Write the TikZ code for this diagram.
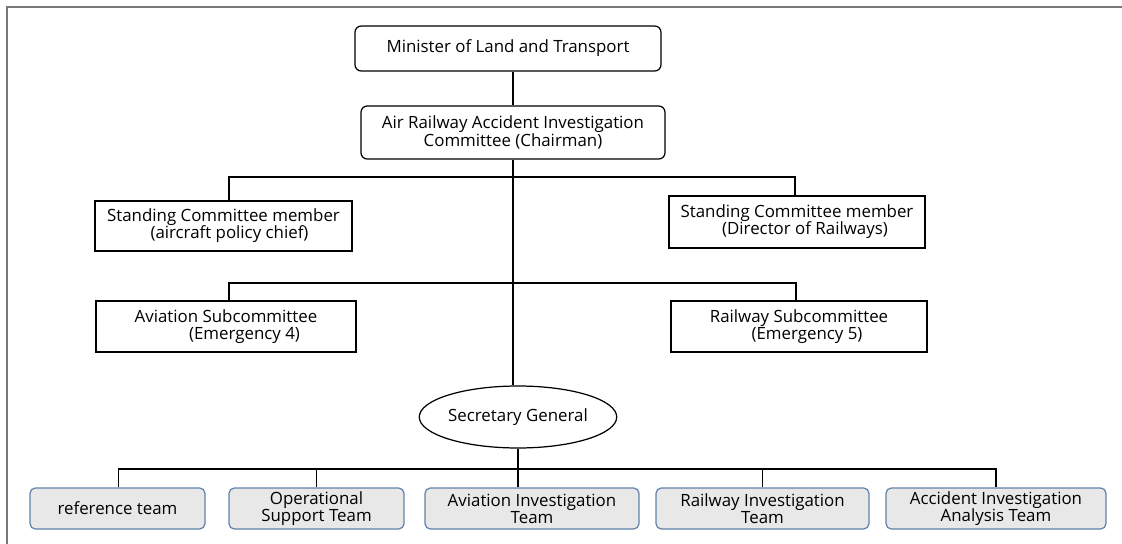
\documentclass[tikz,border=0pt]{standalone}
\usepackage{fontspec}
\setmainfont{Open Sans}
\usepackage{tikz}
\usetikzlibrary{calc,shapes,positioning}
\usetikzlibrary{shapes.geometric}
\definecolor{teamblue}{RGB}{95,130,170}
\definecolor{teamgray}{RGB}{232,232,232}
\definecolor{framegray}{RGB}{120,120,120}

\begin{document}
\begin{tikzpicture}[x=0.02cm, y=-0.02cm]
    \useasboundingbox (0,0) rectangle (1122,544);
    \draw[framegray, line width=1.1pt] (1122,7) -- (7,7) -- (7,544);

    \tikzstyle{hnode} = [line width=0.7pt, draw=black, rectangle, rounded corners = 3.5pt, align=center, inner sep = 1pt]
    \tikzstyle{bnode} = [line width=0.7pt, draw=black, rectangle, align=center, inner sep = 1pt]
    \tikzstyle{enode} = [line width=0.7pt, draw=black, ellipse, inner sep = 0pt, minimum width=3.94cm, minimum height=1.24cm]
    \tikzstyle{tnode} = [line width=0.7pt, draw=teamblue, fill=teamgray, rectangle, rounded corners = 3pt, align=center, inner sep = 1pt, minimum height=0.82cm]
    \tikzstyle{link} = [line width=0.8pt, draw=black]

    \begin{scope}[font=\fontsize{9.6}{9.8}\selectfont]
      \node[hnode, minimum width=6.12cm, minimum height=0.9cm] (mini) at (508,48.5) {Minister of Land and Transport};
      \node[hnode, minimum width=6.08cm, minimum height=1.06cm] (chair) at (513,132.5) {Air Railway Accident Investigation\\Committee (Chairman)};

      \node[bnode, minimum width=5.14cm, minimum height=1.0cm] (scl) at (223.5,226) {Standing Committee member\\\hspace*{0.24cm}(aircraft policy chief)};
      \node[bnode, minimum width=5.12cm, minimum height=1.04cm] (scr) at (797,222) {Standing Committee member\\\hspace*{0.32cm}(Director of Railways)};

      \node[bnode, minimum width=5.2cm, minimum height=1.02cm] (asc) at (226,326.5) {Aviation Subcommittee\\\hspace*{0.74cm}(Emergency 4)};
      \node[bnode, minimum width=5.12cm, minimum height=1.02cm] (rsc) at (799,326.5) {Railway Subcommittee\\\hspace*{0.32cm}(Emergency 5)};

      \node[enode] (sec) at (518,417) {Secretary General};

      \node[tnode, minimum width=3.5cm] (t1) at (117.5,508.5) {reference team};
      \node[tnode, minimum width=3.5cm] (t2) at (316.5,508.5) {Operational\\Support Team};
      \node[tnode, minimum width=4.28cm] (t3) at (532,508.5) {Aviation Investigation\\Team};
      \node[tnode, minimum width=4.26cm] (t4) at (762.5,508.5) {Railway Investigation\\Team};
      \node[tnode, minimum width=4.4cm] (t5) at (996,508.5) {Accident Investigation\\Analysis Team};
    \end{scope}

    \coordinate (b1l) at (229,177);
    \coordinate (b1r) at (795,177);
    \coordinate (b2l) at (229,283);
    \coordinate (b2r) at (796,283);
    \coordinate (bsl) at (118.5,469);
    \coordinate (bsr) at (996,469);

    % trunk
    \draw[link] (chair.north) -- (chair.north |- mini.south);
    \draw[link] (chair.south) -- (chair.south |- sec.north);

    % standing members and subcommittees
    \draw[link] (b1l |- scl.north) -- (b1l) -- (b1r) -- (b1r |- scr.north);
    \draw[link] (b2l |- asc.north) -- (b2l) -- (b2r) -- (b2r |- rsc.north);

    % teams
    \draw[link] (bsl |- t1.north) -- (bsl) -- (bsr) -- (bsr |- t5.north);
    \draw[link] (t2.north) -- (t2.north |- bsl);
    \draw[link] (sec.south) -- (sec.south |- t3.north);
    \draw[link] (t4.north) -- (t4.north |- bsl);
\end{tikzpicture}
\end{document}
